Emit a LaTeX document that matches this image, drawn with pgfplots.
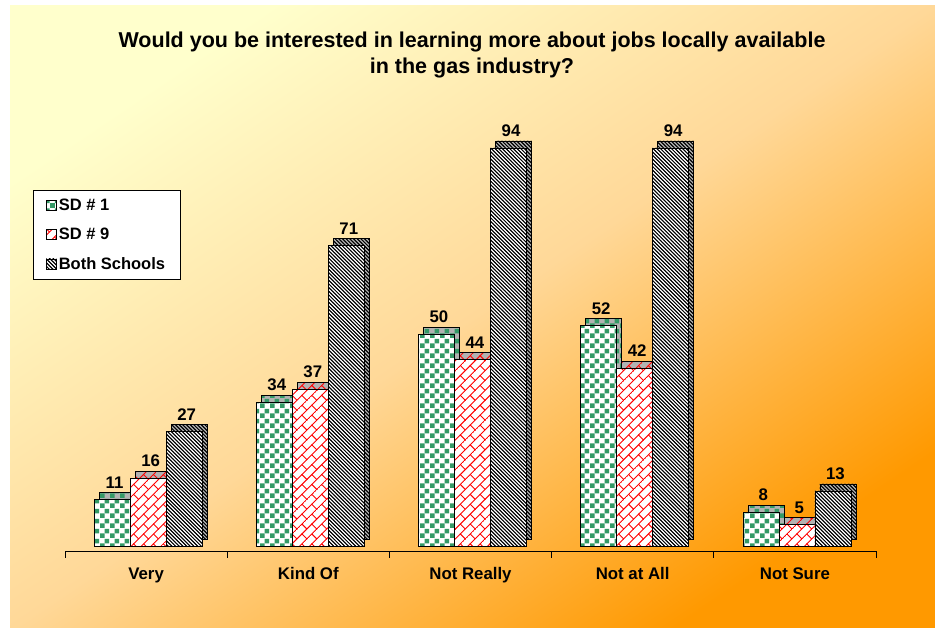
\documentclass[border=0pt]{standalone}
\usepackage{pgfplots}
\pgfplotsset{compat=1.18}
\usepackage{pgfplotstable}
\usepackage{fontspec}
\setmainfont{Liberation Sans}
\usetikzlibrary{patterns.meta}
\definecolor{c1}{HTML}{FFFFCC}
\definecolor{cm}{HTML}{FFD898}
\definecolor{c2}{HTML}{FF9900}
\definecolor{sdgreen}{RGB}{51,153,102}
\pgfdeclarehorizontalshading{bgshade}{100bp}{color(0bp)=(c1); color(25bp)=(c1); color(50bp)=(cm); color(75bp)=(c2); color(100bp)=(c2)}

\tikzdeclarepattern{
  name=greencheck,
  type=uncolored,
  bounding box={(0pt,0pt) and (10pt,10pt)},
  tile size={(10pt,10pt)},
  code={\fill (0pt,0pt) rectangle (5pt,5pt); \fill (5pt,5pt) rectangle (10pt,10pt);}
}
\tikzdeclarepattern{
  name=diaglines,
  type=uncolored,
  bounding box={(-0.5pt,-1pt) and (1.5pt,1pt)},
  tile size={(1pt,2.6pt)},
  tile transformation={rotate=-45},
  code={\draw[line width=0.85pt] (-0.5pt,0pt) -- (1.5pt,0pt);}
}
\tikzdeclarepattern{
  name=redbrick,
  type=uncolored,
  bounding box={(-0.5pt,-0.5pt) and (14.5pt,14.5pt)},
  tile size={(14pt,14pt)},
  tile transformation={rotate=45},
  code={
    \draw[line width=0.9pt] (-0.5pt,0pt) -- (14.5pt,0pt);
    \draw[line width=0.9pt] (-0.5pt,7pt) -- (14.5pt,7pt);
    \draw[line width=0.9pt] (0pt,0pt) -- (0pt,7pt);
    \draw[line width=0.9pt] (7pt,7pt) -- (7pt,14pt);
  }
}

\pgfplotsset{
  myleg/.style={legend image code/.code={\draw[##1,line width=0.6pt] (0pt,-5pt) rectangle (10pt,5pt);}},
  front/.style={ybar, bar width=36pt, bar shift=#1, preaction={fill=white}, draw=black, line width=0.7pt, myleg,
    nodes near coords,
    every node near coord/.append style={font=\fontsize{16.8}{19}\selectfont\bfseries, anchor=south, inner sep=1pt, yshift=10pt, xshift=#1, xshift=2.5pt, black}},
  shadow/.style={ybar, bar width=36pt, bar shift=#1, yshift=7pt, fill=gray!60, draw=black, line width=0.7pt, forget plot},
}

\pgfplotstableread{
cat sd1 sd9 both
0 11 16 27
1 34 37 71
2 50 44 94
3 52 42 94
4 8 5 13
}\datatable

\begin{document}
\begin{tikzpicture}[x=1pt,y=1pt]
\useasboundingbox (0,0) rectangle (935,628);
\shade[shading=bgshade, shading angle=-56] (10,0) rectangle (935,622);
\node[font=\fontsize{21.5}{26}\selectfont\bfseries, align=center] at (472,573) {Would you be interested in learning more about jobs locally available\\in the gas industry?};
\begin{axis}[
  at={(65pt,77pt)}, anchor=south west,
  scale only axis, width=811pt, height=428.4pt,
  xmin=-0.5, xmax=4.5, ymin=-1.18, ymax=100,
  axis x line=bottom, axis y line=none,
  x axis line style={-, line width=0.8pt},
  xtick={0,...,4}, xticklabels={Very, Kind Of, Not Really, Not at All, Not Sure},
  major tick length=0pt,
  minor xtick={-0.5,0.5,1.5,2.5,3.5,4.5},
  minor tick length=7pt, tick align=outside,
  minor tick style={line width=0.8pt, black},
  xticklabel style={font=\fontsize{16.8}{19}\selectfont\bfseries, yshift=-13pt},
  /pgf/number format/assume math mode=true,
  clip=false,
  legend style={at={(-0.0395,0.8427)}, anchor=north west, draw=black, fill=white,
    font=\fontsize{16.5}{19}\selectfont\bfseries, row sep=12pt, inner xsep=13pt, inner ysep=7pt},
  legend cell align=left,
]
\addplot[shadow=-29pt, postaction={pattern=greencheck, pattern color=sdgreen}] table[x=cat,y=sd1]{\datatable};
\addplot[front=-34pt, pattern=greencheck, pattern color=sdgreen] table[x=cat,y=sd1]{\datatable};
\addlegendentry{SD \# 1}
\addplot[shadow=7pt, postaction={pattern=redbrick, pattern color=red}] table[x=cat,y=sd9]{\datatable};
\addplot[front=2pt, pattern=redbrick, pattern color=red] table[x=cat,y=sd9]{\datatable};
\addlegendentry{SD \# 9}
\addplot[shadow=43pt, postaction={pattern=diaglines, pattern color=black}] table[x=cat,y=both]{\datatable};
\addplot[front=38pt, pattern=diaglines, pattern color=black] table[x=cat,y=both]{\datatable};
\addlegendentry{Both Schools}
\end{axis}
\end{tikzpicture}
\end{document}
